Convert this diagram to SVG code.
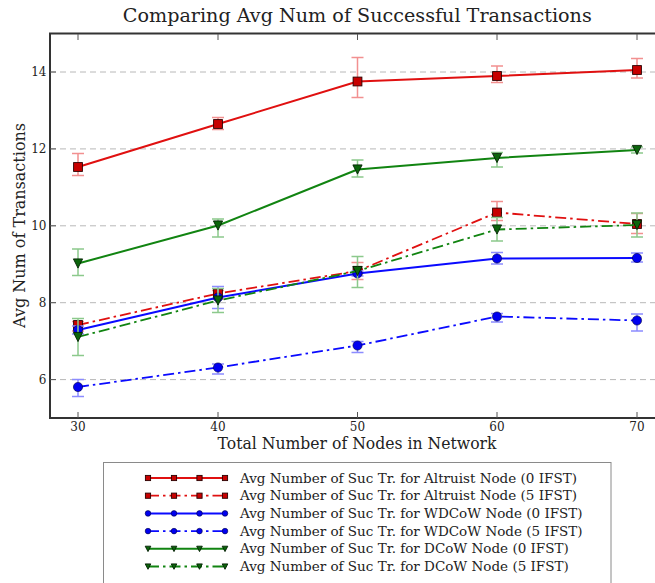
<svg xmlns="http://www.w3.org/2000/svg" xmlns:xlink="http://www.w3.org/1999/xlink" width="655" height="583" viewBox="0 0 655 583">
  <style>
    .txt { font-family: "DejaVu Serif", "Liberation Serif", serif; fill: #222; }
    .tickl { font-size: 12px; }
    .legt { font-size: 13.5px; }
    .grid { stroke: #b8b8b8; stroke-width: 1; stroke-dasharray: 6 4; fill: none; }
    .spine { stroke: #333; stroke-width: 2; fill: none; }
    .tick { stroke: #555; stroke-width: 1; fill: none; }
    .ln { fill: none; stroke-width: 2; stroke-linejoin: round; }
    .dd { stroke-dasharray: 11 4 2.5 4; stroke-width: 1.8; }
    .err { fill: none; stroke-width: 1.5; }
    .r { stroke: #e01010; }
    .g { stroke: #118411; }
    .b { stroke: #0a0aff; }
    .er { stroke: #f29090; }
    .eg { stroke: #8cc98c; }
    .eb { stroke: #8c8cff; }
    .mr { fill: #c80000; stroke: #2a0000; stroke-width: 0.9; }
    .mg { fill: #0b640b; stroke: #022002; stroke-width: 0.9; }
    .mb { fill: #0000f0; stroke: #000040; stroke-width: 0.6; }
  </style>
  <defs>
    <rect id="sq" x="-4.4" y="-4.4" width="8.8" height="8.8"/>
    <circle id="ci" r="4.6"/>
    <polygon id="tv" points="-4.6,-4.6 4.6,-4.6 0,4.6"/>
    <rect id="sqs" x="-2.6" y="-2.6" width="5.2" height="5.2"/>
    <circle id="cis" r="2.8"/>
    <polygon id="tvs" points="-2.8,-2.6 2.8,-2.6 0,2.8"/>
  </defs>

  <rect width="655" height="583" fill="#fff"/>

  <!-- title -->
  <text class="txt" x="357.3" y="21.7" font-size="19" text-anchor="middle" textLength="469" lengthAdjust="spacingAndGlyphs">Comparing Avg Num of Successful Transactions</text>

  <!-- horizontal grid -->
  <g id="grid">
    <path class="grid" d="M50,379.6H655M50,302.7H655M50,225.8H655M50,148.9H655M50,72H655"/>
  </g>

  <!-- axes frame and ticks -->
  <g id="axes">
    <path class="spine" d="M655,33.5H50V418H655"/>
    <path class="tick" d="M78,34V40M218,34V40M357.5,34V40M497,34V40M637,34V40M78,418V412M218,418V412M357.5,418V412M497,418V412M637,418V412M50,379.6h6M50,302.7h6M50,225.8h6M50,148.9h6M50,72h6"/>
    <g class="txt tickl" text-anchor="end">
      <text x="46.5" y="383.9">6</text>
      <text x="46.5" y="307">8</text>
      <text x="46.5" y="230.1">10</text>
      <text x="46.5" y="153.2">12</text>
      <text x="46.5" y="76.3">14</text>
    </g>
    <g class="txt tickl" text-anchor="middle">
      <text x="78" y="431">30</text>
      <text x="218" y="431">40</text>
      <text x="357.5" y="431">50</text>
      <text x="497" y="431">60</text>
      <text x="637" y="431">70</text>
    </g>
    <text class="txt" x="357" y="449" font-size="16" text-anchor="middle" textLength="279" lengthAdjust="spacingAndGlyphs">Total Number of Nodes in Network</text>
    <text class="txt" transform="translate(25,225.5) rotate(-90)" font-size="16" text-anchor="middle">Avg Num of Transactions</text>
  </g>

  <!-- data series -->
  <g id="connectors">
    <g id="altruist-0">
      <path class="err er" d="M78,153.5V175.5M72,153.5h12M72,175.5h12M218,117.5V129.5M212,117.5h12M212,129.5h12M357.5,57.5V97.5M351.5,57.5h12M351.5,97.5h12M497,66V82.5M491,66h12M491,82.5h12M637,58.5V78M631,58.5h12M631,78h12"/>
      <polyline class="ln r" points="78,167 218,124 357.5,81.5 497,76 637,70"/>
      <g class="mr">
        <use xlink:href="#sq" x="78" y="167"/><use xlink:href="#sq" x="218" y="124"/><use xlink:href="#sq" x="357.5" y="81.5"/><use xlink:href="#sq" x="497" y="76"/><use xlink:href="#sq" x="637" y="70"/>
      </g>
    </g>
    <g id="altruist-5">
      <path class="err er" d="M78,321.5V331M72,321.5h12M72,331h12M218,290.5V299M212,290.5h12M212,299h12M357.5,262.5V279.5M351.5,262.5h12M351.5,279.5h12M497,201.5V220.5M491,201.5h12M491,220.5h12M637,213.5V233.5M631,213.5h12M631,233.5h12"/>
      <polyline class="ln dd r" points="78,325 218,293.5 357.5,271 497,212.5 637,224"/>
      <g class="mr">
        <use xlink:href="#sq" x="78" y="325"/><use xlink:href="#sq" x="218" y="293.5"/><use xlink:href="#sq" x="357.5" y="271"/><use xlink:href="#sq" x="497" y="212.5"/><use xlink:href="#sq" x="637" y="224"/>
      </g>
    </g>
    <g id="wdcow-0">
      <path class="err eb" d="M78,326V334M72,326h12M72,334h12M218,286.5V308.5M212,286.5h12M212,308.5h12M357.5,271V276M351.5,271h12M351.5,276h12M497,252.5V264M491,252.5h12M491,264h12M637,253V262M631,253h12M631,262h12"/>
      <polyline class="ln b" points="78,330 218,297.5 357.5,273.5 497,258.5 637,258"/>
      <g class="mb">
        <use xlink:href="#ci" x="78" y="330"/><use xlink:href="#ci" x="218" y="297.5"/><use xlink:href="#ci" x="357.5" y="273.5"/><use xlink:href="#ci" x="497" y="258.5"/><use xlink:href="#ci" x="637" y="258"/>
      </g>
    </g>
    <g id="wdcow-5">
      <path class="err eb" d="M78,379.5V396.5M72,379.5h12M72,396.5h12M218,364V374M212,364h12M212,374h12M357.5,341.5V352.5M351.5,341.5h12M351.5,352.5h12M497,313.5V322M491,313.5h12M491,322h12M637,314V331M631,314h12M631,331h12"/>
      <polyline class="ln dd b" points="78,387 218,367.5 357.5,345.5 497,316.5 637,320.5"/>
      <g class="mb">
        <use xlink:href="#ci" x="78" y="387"/><use xlink:href="#ci" x="218" y="367.5"/><use xlink:href="#ci" x="357.5" y="345.5"/><use xlink:href="#ci" x="497" y="316.5"/><use xlink:href="#ci" x="637" y="320.5"/>
      </g>
    </g>
    <g id="dcow-0">
      <path class="err eg" d="M78,249V275.5M72,249h12M72,275.5h12M218,219V237M212,219h12M212,237h12M357.5,160V177M351.5,160h12M351.5,177h12M497,152.5V167M491,152.5h12M491,167h12M637,147V153M631,147h12M631,153h12"/>
      <polyline class="ln g" points="78,263.5 218,225.5 357.5,169.5 497,158 637,150"/>
      <g class="mg">
        <use xlink:href="#tv" x="78" y="263.5"/><use xlink:href="#tv" x="218" y="225.5"/><use xlink:href="#tv" x="357.5" y="169.5"/><use xlink:href="#tv" x="497" y="158"/><use xlink:href="#tv" x="637" y="150"/>
      </g>
    </g>
    <g id="dcow-5">
      <path class="err eg" d="M78,318.5V355.5M72,318.5h12M72,355.5h12M218,288.5V312.5M212,288.5h12M212,312.5h12M357.5,256.5V287.5M351.5,256.5h12M351.5,287.5h12M497,217.5V241M491,217.5h12M491,241h12M637,213V237M631,213h12M631,237h12"/>
      <polyline class="ln dd g" points="78,337 218,300.5 357.5,271 497,229.5 637,225"/>
      <g class="mg">
        <use xlink:href="#tv" x="78" y="337"/><use xlink:href="#tv" x="218" y="300.5"/><use xlink:href="#tv" x="357.5" y="271"/><use xlink:href="#tv" x="497" y="229.5"/><use xlink:href="#tv" x="637" y="225"/>
      </g>
    </g>
  </g>

  <!-- legend -->
  <g id="legend">
    <rect x="103.5" y="462.5" width="507.5" height="140" fill="#fff" stroke="#8a8a8a" stroke-width="1"/>
    <g id="leg-altruist-0">
      <path class="ln r" stroke-width="1.6" d="M148,478H225"/>
      <g class="mr"><use xlink:href="#sqs" x="148" y="478"/><use xlink:href="#sqs" x="174" y="478"/><use xlink:href="#sqs" x="199.5" y="478"/><use xlink:href="#sqs" x="225" y="478"/></g>
      <text class="txt legt" x="240" y="482.5">Avg Number of Suc Tr. for Altruist Node (0 IFST)</text>
    </g>
    <g id="leg-altruist-5">
      <path class="ln dd r" stroke-width="1.6" d="M148,495.7H225"/>
      <g class="mr"><use xlink:href="#sqs" x="148" y="495.7"/><use xlink:href="#sqs" x="174" y="495.7"/><use xlink:href="#sqs" x="199.5" y="495.7"/><use xlink:href="#sqs" x="225" y="495.7"/></g>
      <text class="txt legt" x="240" y="500.2">Avg Number of Suc Tr. for Altruist Node (5 IFST)</text>
    </g>
    <g id="leg-wdcow-0">
      <path class="ln b" stroke-width="1.6" d="M148,513.4H225"/>
      <g class="mb"><use xlink:href="#cis" x="148" y="513.4"/><use xlink:href="#cis" x="174" y="513.4"/><use xlink:href="#cis" x="199.5" y="513.4"/><use xlink:href="#cis" x="225" y="513.4"/></g>
      <text class="txt legt" x="240" y="517.9">Avg Number of Suc Tr. for WDCoW Node (0 IFST)</text>
    </g>
    <g id="leg-wdcow-5">
      <path class="ln dd b" stroke-width="1.6" d="M148,531.1H225"/>
      <g class="mb"><use xlink:href="#cis" x="148" y="531.1"/><use xlink:href="#cis" x="174" y="531.1"/><use xlink:href="#cis" x="199.5" y="531.1"/><use xlink:href="#cis" x="225" y="531.1"/></g>
      <text class="txt legt" x="240" y="535.6">Avg Number of Suc Tr. for WDCoW Node (5 IFST)</text>
    </g>
    <g id="leg-dcow-0">
      <path class="ln g" stroke-width="1.6" d="M148,548.8H225"/>
      <g class="mg"><use xlink:href="#tvs" x="148" y="548.8"/><use xlink:href="#tvs" x="174" y="548.8"/><use xlink:href="#tvs" x="199.5" y="548.8"/><use xlink:href="#tvs" x="225" y="548.8"/></g>
      <text class="txt legt" x="240" y="553.3">Avg Number of Suc Tr. for DCoW Node (0 IFST)</text>
    </g>
    <g id="leg-dcow-5">
      <path class="ln dd g" stroke-width="1.6" d="M148,566.5H225"/>
      <g class="mg"><use xlink:href="#tvs" x="148" y="566.5"/><use xlink:href="#tvs" x="174" y="566.5"/><use xlink:href="#tvs" x="199.5" y="566.5"/><use xlink:href="#tvs" x="225" y="566.5"/></g>
      <text class="txt legt" x="240" y="571">Avg Number of Suc Tr. for DCoW Node (5 IFST)</text>
    </g>
  </g>
</svg>
